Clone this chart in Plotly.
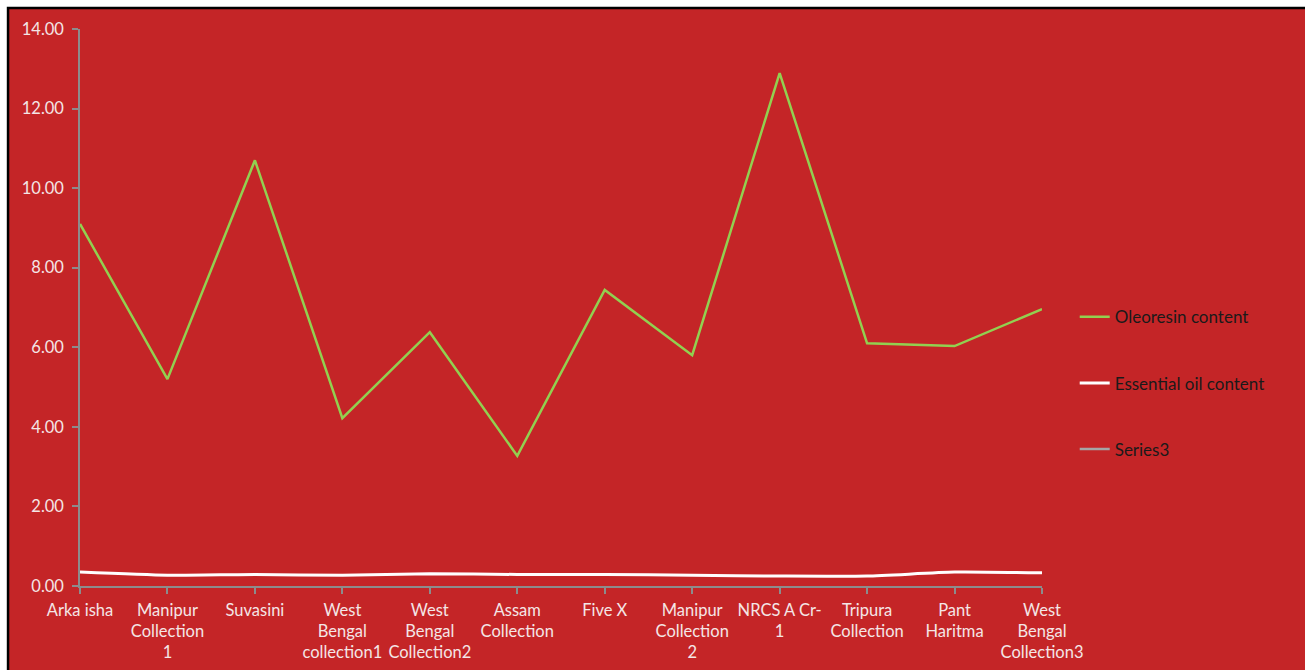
import plotly.graph_objects as go

categories = ["Arka isha", "Manipur Collection 1", "Suvasini", "West Bengal collection1",
              "West Bengal Collection2", "Assam Collection", "Five X", "Manipur Collection 2",
              "NRCS A Cr-1", "Tripura Collection", "Pant Haritma", "West Bengal Collection3"]
tick_labels = ["Arka isha", "Manipur<br>Collection<br>1", "Suvasini", "West<br>Bengal<br>collection1",
               "West<br>Bengal<br>Collection2", "Assam<br>Collection", "Five X", "Manipur<br>Collection<br>2",
               "NRCS A Cr-<br>1", "Tripura<br>Collection", "Pant<br>Haritma", "West<br>Bengal<br>Collection3"]
oleoresin = [9.10, 5.20, 10.70, 4.22, 6.38, 3.27, 7.44, 5.80, 12.89, 6.10, 6.03, 6.96]
essential_oil = [0.35, 0.27, 0.29, 0.27, 0.31, 0.29, 0.29, 0.27, 0.25, 0.25, 0.35, 0.33]
series3 = [None] * 12

RED = "#C42527"
FONT = "Lato"

fig = go.Figure()
fig.add_trace(go.Scatter(x=categories, y=oleoresin, mode="lines", name="Oleoresin content",
                         line=dict(color="#92D050", width=2.5), legendgroup="a"))
fig.add_trace(go.Scatter(x=categories, y=essential_oil, mode="lines", name="Essential oil content",
                         line=dict(color="#FFFFFF", width=3, shape="spline", smoothing=0.6), legendgroup="b"))
fig.add_trace(go.Scatter(x=categories, y=series3, mode="lines", name="Series3",
                         line=dict(color="#A5A5A5", width=2.5), legendgroup="c"))

fig.update_layout(
    width=1305, height=670,
    margin=dict(l=80, r=263, t=29, b=84),
    paper_bgcolor="white",
    plot_bgcolor=RED,
    font=dict(family=FONT, size=16, color="#F4E6E6"),
    showlegend=True,
    legend=dict(x=1.034, xanchor="left", y=0.364, yanchor="middle",
                font=dict(family=FONT, size=17, color="#1A1A1A"),
                bgcolor="rgba(0,0,0,0)", tracegroupgap=41, itemwidth=30),
    shapes=[dict(type="rect", xref="paper", yref="paper",
                 x0=-0.0748, x1=1.36, y0=-0.2, y1=1.0377,
                 fillcolor=RED, line=dict(color="black", width=2.5), layer="below")],
)
fig.update_xaxes(type="category", categoryorder="array", categoryarray=categories,
                 tickvals=categories, ticktext=tick_labels,
                 range=[0, 11], showgrid=False, zeroline=False, automargin=False,
                 showline=True, linecolor="#8C8C8C", linewidth=1.5,
                 ticks="outside", ticklen=6, tickcolor="#8C8C8C", tickwidth=1.5,
                 ticklabelstandoff=2,
                 tickfont=dict(family=FONT, size=16.5, color="#F4E6E6"))
fig.update_yaxes(range=[0, 14], dtick=2, tickformat=".2f", showgrid=False, zeroline=False,
                 automargin=False,
                 showline=True, linecolor="#8C8C8C", linewidth=1.5,
                 ticks="outside", ticklen=6, tickcolor="#8C8C8C", tickwidth=1.5,
                 ticklabelstandoff=5,
                 tickfont=dict(family=FONT, size=16.5, color="#F4E6E6"))

fig.write_html("out.html")
